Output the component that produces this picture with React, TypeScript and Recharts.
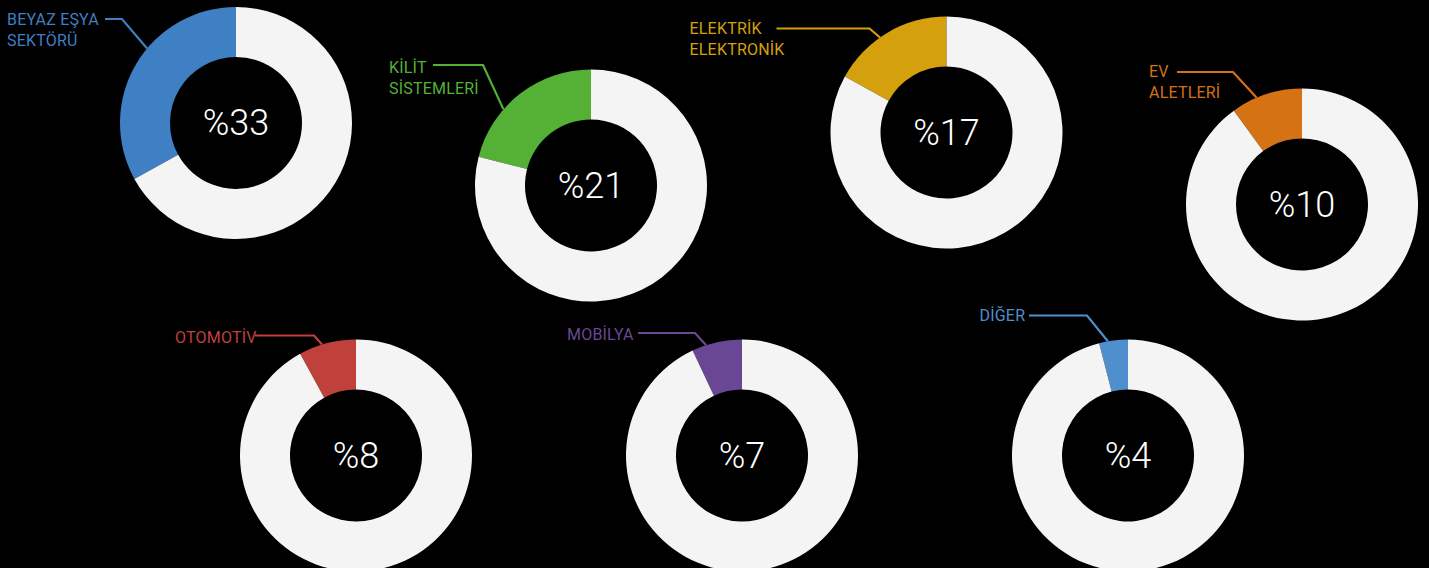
import React from "react";
import { PieChart, Pie, Cell } from "recharts";

// ---- data ----
const categories = [
  "BEYAZ EŞYA SEKTÖRÜ",
  "KİLİT SİSTEMLERİ",
  "ELEKTRİK ELEKTRONİK",
  "EV ALETLERİ",
  "OTOMOTİV",
  "MOBİLYA",
  "DİĞER",
];
const labelLines = [
  ["BEYAZ EŞYA", "SEKTÖRÜ"],
  ["KİLİT", "SİSTEMLERİ"],
  ["ELEKTRİK", "ELEKTRONİK"],
  ["EV", "ALETLERİ"],
  ["OTOMOTİV"],
  ["MOBİLYA"],
  ["DİĞER"],
];
const shares = [33, 21, 17, 10, 8, 7, 4];
const total = 100;

// ---- style ----
const COLORS = ["#3f7fc3", "#55b136", "#d4a00d", "#d57214", "#c0413b", "#6a4795", "#508fcd"];
const REST = "#f4f4f4";

// ---- layout (relative label placement around each donut) ----
const layout = [
  { cx: 236, cy: 123, tx: -229, ty: -104, hx1: -131, hx2: -114, hy: -104, anchor: 50 },
  { cx: 591, cy: 185.5, tx: -202, ty: -119, hx1: -158, hx2: -108, hy: -120.5, anchor: 49 },
  { cx: 946.5, cy: 132.5, tx: -257, ty: -105, hx1: -170, hx2: -77, hy: -104, anchor: 35 },
  { cx: 1302, cy: 204.5, tx: -153, ty: -133.5, hx1: -125, hx2: -69, hy: -132.5, anchor: 23 },
  { cx: 356, cy: 455.5, tx: -181, ty: -118.5, hx1: -101, hx2: -42, hy: -120, anchor: 17 },
  { cx: 742, cy: 455.5, tx: -175, ty: -122, hx1: -104, hx2: -47, hy: -122.5, anchor: 18 },
  { cx: 1128, cy: 455.5, tx: -148.5, ty: -140.5, hx1: -99, hx2: -41, hy: -140, anchor: 10 },
];

const FONT = "Roboto, 'Noto Sans', sans-serif";

const makeLabel = (i: number) => (props: any) => {
  if (props.index !== 0) return null;
  const cx = Number(props.cx);
  const cy = Number(props.cy);
  const R = Number(props.outerRadius);
  const L = layout[i];
  const rad = (L.anchor * Math.PI) / 180;
  const ax = cx - R * Math.sin(rad);
  const ay = cy - R * Math.cos(rad);
  const color = COLORS[i];
  return (
    <g key={`lbl-${i}`}>
      <polyline
        points={`${cx + L.hx1},${cy + L.hy} ${cx + L.hx2},${cy + L.hy} ${ax},${ay}`}
        fill="none"
        stroke={color}
        strokeWidth={2.2}
      />
      <text
        x={cx + L.tx}
        y={cy + L.ty}
        fill={color}
        fontFamily={FONT}
        fontSize={16}
        letterSpacing={0.2}
        dominantBaseline="central"
        textAnchor="start"
      >
        {labelLines[i].map((line, k) => (
          <tspan key={k} x={cx + L.tx} dy={k === 0 ? 0 : 21}>
            {line}
          </tspan>
        ))}
      </text>
      <text
        x={cx}
        y={cy}
        fill="#ffffff"
        fontFamily={FONT}
        fontWeight={300}
        fontSize={36}
        textAnchor="middle"
        dominantBaseline="central"
      >
        {`%${shares[i]}`}
      </text>
    </g>
  );
};

export default function App() {
  return (
    <div
      style={{
        position: "fixed",
        left: 0,
        top: 0,
        width: 1429,
        height: 568,
        background: "#000",
        overflow: "hidden",
      }}
    >
      <PieChart width={1429} height={568} margin={{ top: 0, right: 0, bottom: 0, left: 0 }}>
        {shares.map((s, i) => {
          const data = [
            { name: categories[i], value: s },
            { name: "rest", value: total - s },
          ];
          return (
            <Pie
              key={categories[i]}
              data={data}
              dataKey="value"
              cx={layout[i].cx}
              cy={layout[i].cy}
              innerRadius={66}
              outerRadius={116}
              startAngle={90}
              endAngle={450}
              stroke="none"
              isAnimationActive={false}
              labelLine={false}
              label={makeLabel(i)}
            >
              <Cell fill={COLORS[i]} />
              <Cell fill={REST} />
            </Pie>
          );
        })}
      </PieChart>
    </div>
  );
}
